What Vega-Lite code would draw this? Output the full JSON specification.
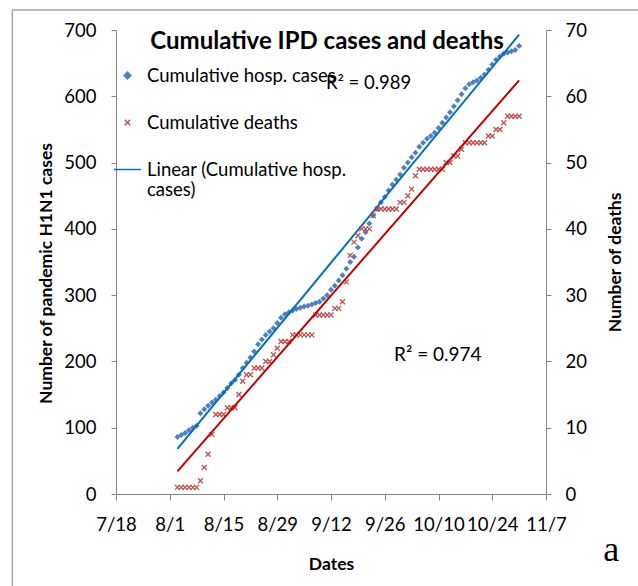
{
  "$schema": "https://vega.github.io/schema/vega-lite/v6.json",
  "width": 430,
  "height": 464,
  "autosize": {"type": "none"},
  "padding": {"left": 116, "top": 30, "right": 92, "bottom": 92},
  "background": "white",
  "title": {"text": "Cumulative IPD cases and deaths", "font": "Lato", "fontSize": 24, "fontWeight": "bold", "color": "#000", "anchor": "middle", "frame": "group", "baseline": "alphabetic", "offset": -44, "dy": 20, "dx": -4},
  "config": {
    "view": {"stroke": null},
    "font": "Lato",
    "axis": {"grid": false, "domainColor": "#868686", "tickColor": "#868686", "labelColor": "#000", "titleColor": "#000", "labelFont": "Lato", "titleFont": "Lato", "labelFontSize": 18.5, "titleFontSize": 17.5, "titleFontWeight": "bold", "domainWidth": 1, "tickWidth": 1, "labelOverlap": false, "labelFlush": false},
    "axisLeft": {"tickSize": 5, "labelPadding": 15, "titlePadding": 8, "tickCount": 7, "titleY": 243},
    "axisRight": {"tickSize": 5, "labelPadding": 14, "titlePadding": 38, "tickCount": 7, "titleAngle": 270},
    "axisBottom": {"tickSize": 6, "labelPadding": 15, "titlePadding": 22}
  },
  "datasets": {
    "daily": [
      {"date": "2009-08-03", "cases": 86, "deaths": 1},
      {"date": "2009-08-04", "cases": 89, "deaths": 1},
      {"date": "2009-08-05", "cases": 92, "deaths": 1},
      {"date": "2009-08-06", "cases": 96, "deaths": 1},
      {"date": "2009-08-07", "cases": 100, "deaths": 1},
      {"date": "2009-08-08", "cases": 103, "deaths": 1},
      {"date": "2009-08-09", "cases": 122, "deaths": 2},
      {"date": "2009-08-10", "cases": 128, "deaths": 4},
      {"date": "2009-08-11", "cases": 133, "deaths": 6},
      {"date": "2009-08-12", "cases": 138, "deaths": 9},
      {"date": "2009-08-13", "cases": 142, "deaths": 12},
      {"date": "2009-08-14", "cases": 148, "deaths": 12},
      {"date": "2009-08-15", "cases": 153, "deaths": 12},
      {"date": "2009-08-16", "cases": 160, "deaths": 13},
      {"date": "2009-08-17", "cases": 167, "deaths": 13},
      {"date": "2009-08-18", "cases": 172, "deaths": 13},
      {"date": "2009-08-19", "cases": 180, "deaths": 15},
      {"date": "2009-08-20", "cases": 190, "deaths": 17},
      {"date": "2009-08-21", "cases": 198, "deaths": 18},
      {"date": "2009-08-22", "cases": 206, "deaths": 18},
      {"date": "2009-08-23", "cases": 215, "deaths": 19},
      {"date": "2009-08-24", "cases": 226, "deaths": 19},
      {"date": "2009-08-25", "cases": 233, "deaths": 19},
      {"date": "2009-08-26", "cases": 240, "deaths": 20},
      {"date": "2009-08-27", "cases": 245, "deaths": 20},
      {"date": "2009-08-28", "cases": 250, "deaths": 21},
      {"date": "2009-08-29", "cases": 258, "deaths": 22},
      {"date": "2009-08-30", "cases": 266, "deaths": 23},
      {"date": "2009-08-31", "cases": 271, "deaths": 23},
      {"date": "2009-09-01", "cases": 274, "deaths": 23},
      {"date": "2009-09-02", "cases": 277, "deaths": 24},
      {"date": "2009-09-03", "cases": 279, "deaths": 24},
      {"date": "2009-09-04", "cases": 281, "deaths": 24},
      {"date": "2009-09-05", "cases": 283, "deaths": 24},
      {"date": "2009-09-06", "cases": 284, "deaths": 24},
      {"date": "2009-09-07", "cases": 286, "deaths": 24},
      {"date": "2009-09-08", "cases": 288, "deaths": 27},
      {"date": "2009-09-09", "cases": 290, "deaths": 27},
      {"date": "2009-09-10", "cases": 295, "deaths": 27},
      {"date": "2009-09-11", "cases": 300, "deaths": 27},
      {"date": "2009-09-12", "cases": 308, "deaths": 27},
      {"date": "2009-09-13", "cases": 314, "deaths": 28},
      {"date": "2009-09-14", "cases": 322, "deaths": 28},
      {"date": "2009-09-15", "cases": 330, "deaths": 29},
      {"date": "2009-09-16", "cases": 340, "deaths": 32},
      {"date": "2009-09-17", "cases": 350, "deaths": 36},
      {"date": "2009-09-18", "cases": 358, "deaths": 38},
      {"date": "2009-09-19", "cases": 372, "deaths": 39},
      {"date": "2009-09-20", "cases": 385, "deaths": 40},
      {"date": "2009-09-21", "cases": 395, "deaths": 40},
      {"date": "2009-09-22", "cases": 408, "deaths": 40},
      {"date": "2009-09-23", "cases": 420, "deaths": 42},
      {"date": "2009-09-24", "cases": 430, "deaths": 43},
      {"date": "2009-09-25", "cases": 440, "deaths": 43},
      {"date": "2009-09-26", "cases": 448, "deaths": 43},
      {"date": "2009-09-27", "cases": 458, "deaths": 43},
      {"date": "2009-09-28", "cases": 467, "deaths": 43},
      {"date": "2009-09-29", "cases": 474, "deaths": 43},
      {"date": "2009-09-30", "cases": 482, "deaths": 44},
      {"date": "2009-10-01", "cases": 492, "deaths": 44},
      {"date": "2009-10-02", "cases": 500, "deaths": 45},
      {"date": "2009-10-03", "cases": 508, "deaths": 46},
      {"date": "2009-10-04", "cases": 515, "deaths": 48},
      {"date": "2009-10-05", "cases": 524, "deaths": 49},
      {"date": "2009-10-06", "cases": 530, "deaths": 49},
      {"date": "2009-10-07", "cases": 536, "deaths": 49},
      {"date": "2009-10-08", "cases": 540, "deaths": 49},
      {"date": "2009-10-09", "cases": 545, "deaths": 49},
      {"date": "2009-10-10", "cases": 552, "deaths": 49},
      {"date": "2009-10-11", "cases": 560, "deaths": 49},
      {"date": "2009-10-12", "cases": 568, "deaths": 50},
      {"date": "2009-10-13", "cases": 576, "deaths": 50},
      {"date": "2009-10-14", "cases": 585, "deaths": 51},
      {"date": "2009-10-15", "cases": 594, "deaths": 51},
      {"date": "2009-10-16", "cases": 603, "deaths": 52},
      {"date": "2009-10-17", "cases": 612, "deaths": 53},
      {"date": "2009-10-18", "cases": 618, "deaths": 53},
      {"date": "2009-10-19", "cases": 621, "deaths": 53},
      {"date": "2009-10-20", "cases": 624, "deaths": 53},
      {"date": "2009-10-21", "cases": 628, "deaths": 53},
      {"date": "2009-10-22", "cases": 633, "deaths": 53},
      {"date": "2009-10-23", "cases": 640, "deaths": 54},
      {"date": "2009-10-24", "cases": 648, "deaths": 54},
      {"date": "2009-10-25", "cases": 655, "deaths": 55},
      {"date": "2009-10-26", "cases": 660, "deaths": 55},
      {"date": "2009-10-27", "cases": 664, "deaths": 56},
      {"date": "2009-10-28", "cases": 666, "deaths": 57},
      {"date": "2009-10-29", "cases": 668, "deaths": 57},
      {"date": "2009-10-30", "cases": 670, "deaths": 57},
      {"date": "2009-10-31", "cases": 676, "deaths": 57}
    ],
    "trend": [
      {"date": "2009-08-03", "casesFit": 68, "deathsFit": 3.4},
      {"date": "2009-10-31", "casesFit": 693, "deathsFit": 62.4}
    ]
  },
  "layer": [
    {
      "layer": [
        {
          "data": {"values": [{"edge": "top"}]},
          "mark": {"type": "rule", "color": "#A6A6A6", "strokeWidth": 1.5},
          "encoding": {
            "x": {"datum": {"year": 2009, "month": 6, "date": 21, "utc": true}, "type": "temporal"},
            "x2": {"datum": {"year": 2009, "month": 12, "date": 15, "utc": true}},
            "y": {"datum": 730, "type": "quantitative"}
          }
        },
        {
          "data": {"values": [{"edge": "left"}]},
          "mark": {"type": "rule", "color": "#A6A6A6", "strokeWidth": 1.5},
          "encoding": {
            "x": {"datum": {"year": 2009, "month": 6, "date": 21, "utc": true}, "type": "temporal"},
            "y": {"datum": 730, "type": "quantitative"},
            "y2": {"datum": -160}
          }
        },
        {
          "data": {"name": "daily"},
          "mark": {"type": "point", "filled": true, "size": 576, "opacity": 1, "strokeWidth": 0},
          "encoding": {
            "x": {
              "field": "date",
              "type": "temporal",
              "title": "Dates",
              "scale": {"type": "utc", "domain": [{"year": 2009, "month": 7, "date": 18, "utc": true}, {"year": 2009, "month": 11, "date": 7, "utc": true}]},
              "axis": {
                "format": "%-m/%-d",
                "values": [
                  {"year": 2009, "month": 7, "date": 18, "utc": true},
                  {"year": 2009, "month": 8, "date": 1, "utc": true},
                  {"year": 2009, "month": 8, "date": 15, "utc": true},
                  {"year": 2009, "month": 8, "date": 29, "utc": true},
                  {"year": 2009, "month": 9, "date": 12, "utc": true},
                  {"year": 2009, "month": 9, "date": 26, "utc": true},
                  {"year": 2009, "month": 10, "date": 10, "utc": true},
                  {"year": 2009, "month": 10, "date": 24, "utc": true},
                  {"year": 2009, "month": 11, "date": 7, "utc": true}
                ]
              }
            },
            "y": {"field": "cases", "type": "quantitative", "title": "Number of pandemic H1N1 cases", "scale": {"domain": [0, 700]}},
            "color": {
              "datum": "Cumulative hosp. cases",
              "type": "nominal",
              "scale": {"domain": ["Cumulative hosp. cases", "Cumulative deaths", "Linear (Cumulative hosp. cases)"], "range": ["#4F81BD", "#C0504D", "#0070C0"]},
              "legend": {
                "title": null, "orient": "none", "legendX": -3, "legendY": 31, "padding": 0,
                "symbolSize": 729, "labelFont": "Lato", "labelFontSize": 18.5, "labelColor": "#000", "labelOffset": 5, "labelLimit": 400, "rowPadding": 23,
                "labelExpr": "datum.label === 'Linear (Cumulative hosp. cases)' ? ['Linear (Cumulative hosp.', 'cases)'] : datum.label",
                "encode": {"symbols": {"update": {
                  "fill": {"scale": "color", "field": "value"},
                  "stroke": {"scale": "color", "field": "value"},
                  "strokeWidth": {"signal": "datum.value === 'Linear (Cumulative hosp. cases)' ? 2 : 1.3"},
                  "opacity": {"value": 1}
                }}}
              }
            },
            "shape": {
              "datum": "Cumulative hosp. cases",
              "type": "nominal",
              "scale": {"domain": ["Cumulative hosp. cases", "Cumulative deaths", "Linear (Cumulative hosp. cases)"], "range": ["M0,-0.25L0.25,0L0,0.25L-0.25,0Z", "M-0.2,-0.2L0.2,0.2M-0.2,0.2L0.2,-0.2", "M-1,0L1,0"]}
            }
          }
        },
        {
          "data": {"name": "trend"},
          "mark": {"type": "line", "strokeWidth": 2},
          "encoding": {
            "x": {"field": "date", "type": "temporal"},
            "y": {"field": "casesFit", "type": "quantitative", "title": "Number of pandemic H1N1 cases"},
            "color": {"datum": "Linear (Cumulative hosp. cases)", "type": "nominal"}
          }
        },
        {
          "data": {"values": [{"label": "R² = 0.989"}]},
          "mark": {"type": "text", "align": "left", "baseline": "middle", "font": "Lato", "fontSize": 18.5, "color": "#000"},
          "encoding": {
            "x": {"datum": {"year": 2009, "month": 9, "date": 10, "hours": 17, "utc": true}, "type": "temporal"},
            "y": {"datum": 620, "type": "quantitative"},
            "text": {"field": "label", "type": "nominal"}
          }
        },
        {
          "data": {"values": [{"label": "R² = 0.974"}]},
          "mark": {"type": "text", "align": "left", "baseline": "middle", "font": "Lato", "fontSize": 19, "color": "#000"},
          "encoding": {
            "x": {"datum": {"year": 2009, "month": 9, "date": 28, "hours": 10, "utc": true}, "type": "temporal"},
            "y": {"datum": 210, "type": "quantitative"},
            "text": {"field": "label", "type": "nominal"}
          }
        },
        {
          "data": {"values": [{"label": "a"}]},
          "mark": {"type": "text", "align": "center", "baseline": "middle", "font": "Liberation Serif", "fontSize": 36, "color": "#000"},
          "encoding": {
            "x": {"datum": {"year": 2009, "month": 11, "date": 24, "utc": true}, "type": "temporal"},
            "y": {"datum": -84, "type": "quantitative"},
            "text": {"field": "label", "type": "nominal"}
          }
        }
      ]
    },
    {
      "layer": [
        {
          "data": {"name": "daily"},
          "mark": {"type": "point", "filled": false, "size": 625, "strokeWidth": 1.3, "opacity": 1},
          "encoding": {
            "x": {"field": "date", "type": "temporal"},
            "y": {"field": "deaths", "type": "quantitative", "title": "Number of deaths", "scale": {"domain": [0, 70]}, "axis": {"orient": "right"}},
            "color": {"datum": "Cumulative deaths", "type": "nominal"},
            "shape": {"datum": "Cumulative deaths", "type": "nominal"}
          }
        },
        {
          "data": {"name": "trend"},
          "mark": {"type": "line", "strokeWidth": 2, "color": "#C00000"},
          "encoding": {
            "x": {"field": "date", "type": "temporal"},
            "y": {"field": "deathsFit", "type": "quantitative", "title": "Number of deaths"}
          }
        }
      ]
    }
  ],
  "resolve": {"scale": {"y": "independent"}}
}
